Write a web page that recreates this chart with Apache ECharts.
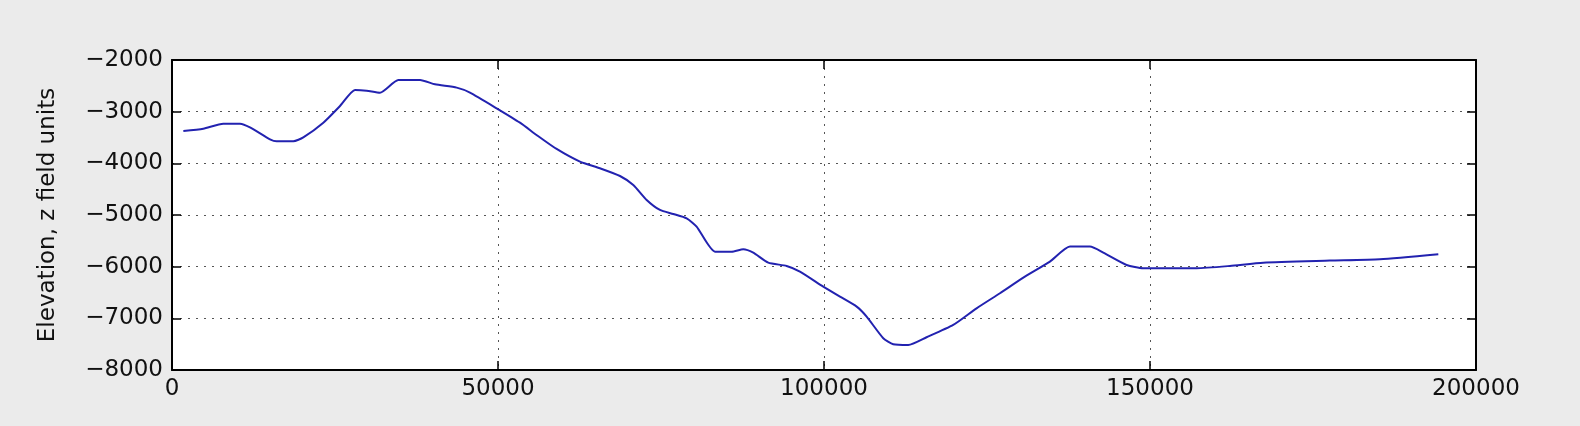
<!DOCTYPE html>
<html>
<head>
<meta charset="utf-8">
<script src="https://cdn.jsdelivr.net/npm/echarts@6/dist/echarts.min.js"></script>
<style>
  html, body { margin: 0; padding: 0; background: #ebebeb; }
  #main { width: 1580px; height: 426px; }
</style>
</head>
<body>
<div id="main"></div>
<script>
// distance along profile
var dist = [1740, 4800, 7870, 10430, 11960, 15030, 16050, 18610, 20140, 23210,
    25770, 28070, 29860, 31900, 34710, 38040, 40340, 43670, 45700, 49790,
    53370, 55920, 58990, 62570, 65640, 68710, 70750, 72800, 74840, 76880,
    78930, 80460, 83280, 85830, 87620, 89150, 91450, 94270, 96310, 99890,
    102450, 105010, 106540, 109090, 110620, 112920, 115730, 119820, 123400, 126990,
    130570, 134650, 137720, 140790, 142830, 146410, 148970, 157150, 162260, 167370,
    177600, 185260, 194220]
// elevation
var elev = [-3374, -3329, -3232, -3232, -3303, -3535, -3574, -3574, -3497, -3213,
    -2890, -2580, -2593, -2632, -2387, -2387, -2471, -2535, -2632, -2935,
    -3213, -3451, -3722, -3967, -4096, -4245, -4419, -4709, -4903, -4980,
    -5064, -5225, -5709, -5709, -5663, -5729, -5922, -5986, -6096, -6387,
    -6580, -6774, -6967, -7385, -7501, -7515, -7366, -7128, -6806, -6514,
    -6212, -5903, -5612, -5612, -5728, -5967, -6031, -6031, -5986, -5922,
    -5883, -5857, -5760]

var yName = 'Elevation, z field units'

var pts = []
for (var i = 0; i < dist.length; i++) {
    pts.push([dist[i], elev[i]])
}

function plain(v) {
    return String(v).replace('-', '\u2212')
}

var font = 'DejaVu Sans'
var frame = { show: true, onZero: false, lineStyle: { color: '#000', width: 2 } }
var tick = { show: true, inside: true, length: 9, lineStyle: { color: '#000', width: 1.5 } }
var grid_line = { show: true, lineStyle: { color: '#555', width: 1, type: [2, 6] } }

var myChart = echarts.init(document.getElementById('main'))
var option = {
    backgroundColor: '#ebebeb',
    animation: false,
    grid: { left: 172, right: 104, top: 60, bottom: 56, show: true, backgroundColor: '#fff', borderWidth: 0 },
    xAxis: [
        {
            type: 'value', min: 0, max: 200000, interval: 50000,
            axisLine: frame, axisTick: tick,
            splitLine: grid_line,
            axisLabel: { color: '#111', fontFamily: font, fontSize: 23, margin: 8, formatter: plain }
        },
        {
            type: 'value', position: 'top', min: 0, max: 200000, interval: 50000,
            axisLine: frame, axisTick: tick,
            splitLine: { show: false }, axisLabel: { show: false }
        }
    ],
    yAxis: [
        {
            type: 'value', min: -8000, max: -2000, interval: 1000,
            name: yName, nameLocation: 'middle', nameGap: 112,
            nameTextStyle: { color: '#111', fontFamily: font, fontSize: 23 },
            axisLine: frame, axisTick: tick,
            splitLine: grid_line,
            axisLabel: { color: '#111', fontFamily: font, fontSize: 23, margin: 9, formatter: plain }
        },
        {
            type: 'value', position: 'right', min: -8000, max: -2000, interval: 1000,
            axisLine: frame, axisTick: tick,
            splitLine: { show: false }, axisLabel: { show: false }
        }
    ],
    series: [
        {
            type: 'line',
            data: pts,
            showSymbol: false,
            smooth: 0.2,
            lineStyle: { color: '#2222b0', width: 2 }
        }
    ]
}
myChart.setOption(option)
</script>
</body>
</html>
